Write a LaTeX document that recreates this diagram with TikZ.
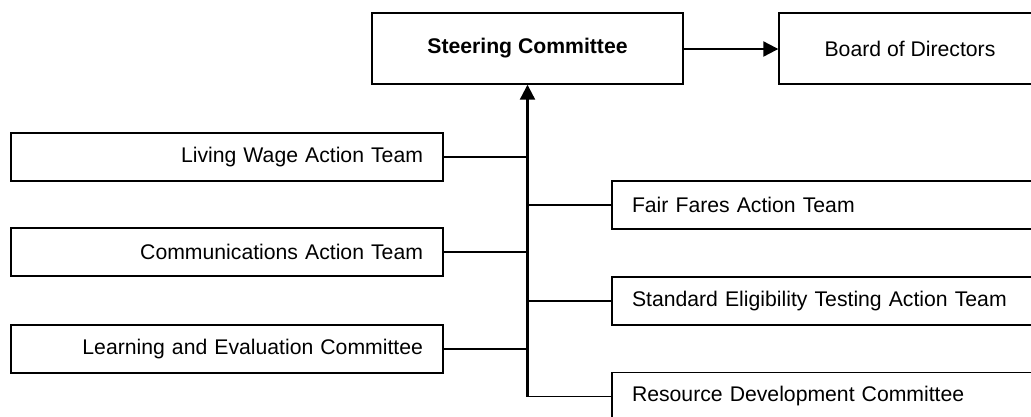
\documentclass[tikz,border=0pt]{standalone}
\usepackage{fontspec}
\setmainfont{Liberation Sans}
\usetikzlibrary{arrows.meta}
\begin{document}
\begin{tikzpicture}[x=1pt,y=-1pt,
  box/.style={draw=black,line width=1.4pt,rectangle,minimum height=48pt,inner ysep=0pt,
    font=\fontsize{21.2}{25}\selectfont},
  leftbox/.style={box,text width=392pt,align=right,inner xsep=20pt},
  rightbox/.style={box,text width=400pt,align=left,inner xsep=20pt},
  conn/.style={line width=1.4pt},
  spine/.style={line width=2.2pt},
  tip/.style={-{Triangle[length=15pt,width=15pt]}}]
\clip (0,0) rectangle (1031,416);
\fill[white] (0,0) rectangle (1031,416);
% top row
\node[box,minimum width=311pt,minimum height=71pt,font=\fontsize{21.2}{25}\selectfont\bfseries] (steer) at (527.5,48.5) {Steering Committee};
\node[box,minimum width=262pt,minimum height=71pt] (board) at (910,48.5) {Board of Directors};
% left boxes
\node[leftbox] (liv) at (227,157) {Living Wage Action Team};
\node[leftbox] (com) at (227,252) {Communications Action Team};
\node[leftbox] (lea) at (227,349) {Learning and Evaluation Committee};
% right boxes
\node[rightbox] (fai) at (832,205) {Fair Fares Action Team};
\node[rightbox] (sta) at (832,301) {Standard Eligibility Testing Action Team};
\node[rightbox] (res) at (832,396.5) {Resource Development Committee};
% connectors
\coordinate (bot) at (res.west -| steer.south);
\draw[spine,tip] (bot) -- (steer.south);
\draw[conn] (bot) -- (res.west);
\draw[spine,tip] (steer.east |- 0,49) -- (board.west |- 0,49);
\draw[conn] (liv.east) -- (liv.east -| steer.south);
\draw[conn] (com.east) -- (com.east -| steer.south);
\draw[conn] (lea.east) -- (lea.east -| steer.south);
\draw[conn] (fai.west) -- (fai.west -| steer.south);
\draw[conn] (sta.west) -- (sta.west -| steer.south);
\end{tikzpicture}
\end{document}
